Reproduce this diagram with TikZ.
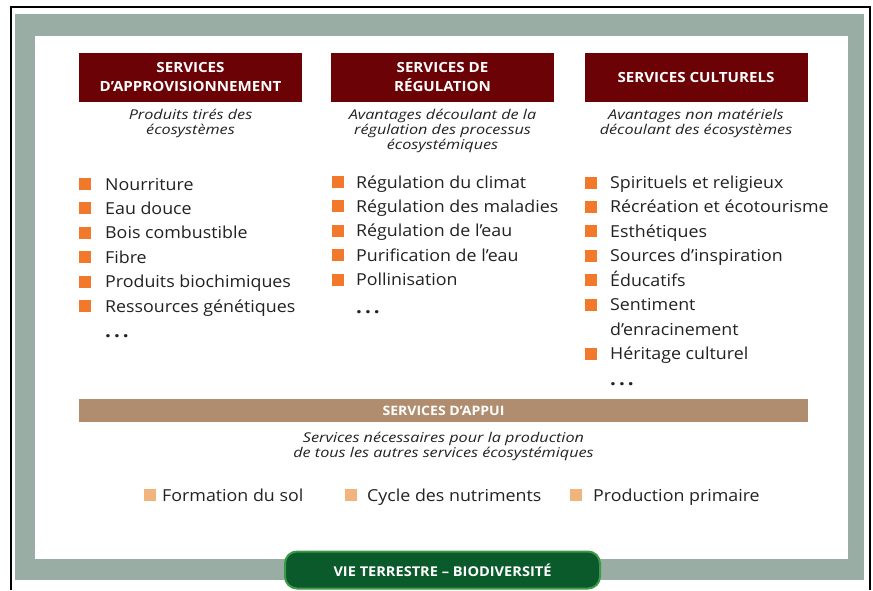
\documentclass[tikz,border=0pt]{standalone}
\usepackage{fontspec}
\setmainfont{Open Sans}[FakeStretch=1.08]
\newfontfamily\largeital{Open Sans}[FakeStretch=1.2]
\usetikzlibrary{positioning}

\definecolor{bordeaux}{HTML}{6B0306}
\definecolor{orangepuce}{HTML}{F2782B}
\definecolor{orangeclair}{HTML}{F0B47C}
\definecolor{brunappui}{HTML}{B18D6F}
\definecolor{grisvert}{HTML}{9AADA4}
\definecolor{vertfonce}{HTML}{0B5A2C}
\definecolor{vertclair}{HTML}{3C9A44}
\definecolor{gristexte}{HTML}{222222}

\tikzset{
  titre/.style={fill=bordeaux, minimum width=223, minimum height=49, inner sep=0,
    text=white, align=center, font=\bfseries\fontsize{14}{19}\selectfont},
  soustitre/.style={inner sep=0, align=center, text=gristexte,
    font=\largeital\itshape\fontsize{13.5}{15}\selectfont},
  item/.style={anchor=west, inner sep=0, text height=12pt, text depth=0pt,
    text=gristexte, font=\fontsize{16.5}{18}\selectfont},
  puce/.style={fill=orangepuce, minimum size=12, inner sep=0},
  puceclair/.style={fill=orangeclair, minimum size=12, inner sep=0},
  appui/.style={fill=brunappui, minimum width=729, minimum height=23, inner sep=0,
    text=white, font=\bfseries\fontsize{13}{14}\selectfont},
  biodiv/.style={fill=vertfonce, draw=vertclair, line width=2pt, rounded corners=12pt,
    minimum width=315, minimum height=37, inner sep=0,
    text=white, font=\bfseries\fontsize{13.5}{15}\selectfont}
}
\newcommand{\points}{{\bfseries\fontsize{19}{20}\selectfont .\hspace{3pt}.\hspace{3pt}.}}

\begin{document}
\begin{tikzpicture}[x=1pt,y=-1pt]
  \useasboundingbox (0,0) rectangle (873,590);
  %Cadre
  \draw[line width=2pt] (11,590)--(11,7)--(870,7)--(870,590);
  \fill[grisvert] (15,14) rectangle (864,580);
  \fill[white] (35,36) rectangle (848,559);

  %Titres
  \node[titre] (appro) at (190.5,77) {SERVICES\\D’APPROVISIONNEMENT};
  \node[titre] (regul) at (442.5,77) {SERVICES DE\\RÉGULATION};
  \node[titre] (cultu) at (696,77) {SERVICES CULTURELS};

  %Sous-titres
  \node[soustitre, below=7pt of appro] (appro-st) {Produits tirés des\\écosystèmes};
  \node[soustitre, below=7pt of regul] (regul-st) {Avantages découlant de la\\régulation des processus\\écosystémiques};
  \node[soustitre, below=7pt of cultu] (cultu-st) {Avantages non matériels\\découlant des écosystèmes};

  %Approvisionnement
  \foreach \txt [count=\i] in {Nourriture, Eau douce, Bois combustible, Fibre,
      Produits biochimiques, Ressources génétiques}
  {
    \node[item] (e1-\i) at (105,{184+24.4*(\i-1)}) {\txt};
    \node[puce, left=14pt of e1-\i] (p1-\i) {};
  }
  \node[item] (e1-fin) at (105,331) {\points};

  %Regulation
  \foreach \txt [count=\i] in {Régulation du climat, Régulation des maladies,
      Régulation de l’eau, Purification de l’eau, Pollinisation}
  {
    \node[item] (e2-\i) at (356,{182+24.4*(\i-1)}) {\txt};
    \node[puce, left=12pt of e2-\i] (p2-\i) {};
  }
  \node[item] (e2-fin) at (356,307) {\points};

  %Culturels
  \foreach \txt [count=\i] in {Spirituels et religieux, Récréation et écotourisme,
      Esthétiques, Sources d’inspiration, Éducatifs, Sentiment}
  {
    \node[item] (e3-\i) at (610,{182.5+24.4*(\i-1)}) {\txt};
    \node[puce, left=13pt of e3-\i] (p3-\i) {};
  }
  \node[item] (e3-6b) at (610,329) {d’enracinement};
  \node[item] (e3-7) at (610,353.5) {Héritage culturel};
  \node[puce, left=13pt of e3-7] (p3-7) {};
  \node[item] (e3-fin) at (610,379) {\points};

  %Services d'appui
  \node[appui] (appui) at (443.5,410.5) {SERVICES D’APPUI};
  \node[soustitre, below=10pt of appui] (appui-st) {Services nécessaires pour la production\\de tous les autres services écosystémiques};
  \node[item] (a-1) at (162,495) {Formation du sol};
  \node[puceclair, left=6pt of a-1] (q-1) {};
  \node[item] (a-2) at (367,495) {Cycle des nutriments};
  \node[puceclair, left=10pt of a-2] (q-2) {};
  \node[item] (a-3) at (593,495) {Production primaire};
  \node[puceclair, left=11pt of a-3] (q-3) {};

  %Bandeau vert
  \node[biodiv] (vie) at (442.5,570) {VIE TERRESTRE – BIODIVERSITÉ};
\end{tikzpicture}
\end{document}
